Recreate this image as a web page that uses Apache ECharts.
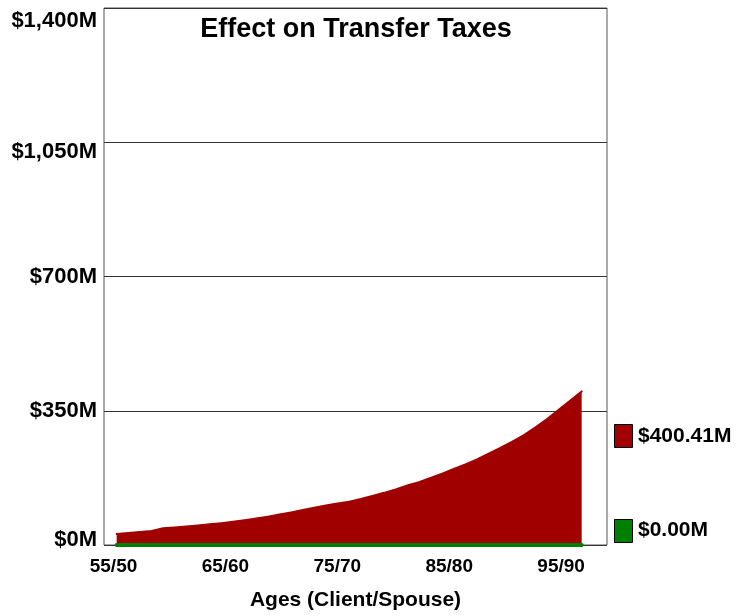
<!DOCTYPE html>
<html>
<head>
<meta charset="utf-8">
<title>Effect on Transfer Taxes</title>
<script src="https://cdn.jsdelivr.net/npm/echarts@6/dist/echarts.min.js"></script>
<style>
  html, body { margin: 0; padding: 0; background: #fff; }
  #chart { width: 750px; height: 616px; }
</style>
</head>
<body>
<div id="chart"></div>
<script>
// Client ages, one point per year
const ages = [55, 56, 57, 58, 59, 60, 61, 62, 63, 64, 65, 66, 67, 68, 69, 70, 71, 72, 73, 74,
              75, 76, 77, 78, 79, 80, 81, 82, 83, 84, 85, 86, 87, 88, 89, 90, 91, 92, 93, 94, 95];

// Transfer taxes ($M) per year
const transferTaxes = [28.7, 31.5, 34.0, 36.8, 43.5, 45.5, 48.0, 51.0, 54.0, 57.0,
                       60.5, 64.5, 69.0, 74.0, 79.5, 85.0, 91.0, 97.0, 103.0, 108.0,
                       113.0, 120.0, 128.0, 136.0, 145.0, 155.0, 164.0, 175.0, 186.0, 198.0,
                       210.0, 223.0, 238.0, 253.0, 269.0, 286.0, 306.0, 328.0, 352.0, 376.0,
                       400.41];

// Alternative scenario ($M) per year
const alternativeTaxes = ages.map(() => 0);

// Axis ticks
const yTicks = [0, 350, 700, 1050, 1400];
const yTickLabels = ['$0M', '$350M', '$700M', '$1,050M', '$1,400M'];
const xTickAges = [55, 65, 75, 85, 95];
const xTickLabels = ['55/50', '65/60', '75/70', '85/80', '95/90'];

const RED = '#a00000';
const GREEN = '#008000';
const FONT = 'Liberation Sans, Arial, Helvetica, sans-serif';

const chart = echarts.init(document.getElementById('chart'), null, { renderer: 'canvas' });

const last = arr => arr[arr.length - 1];
const money = v => '$' + v.toFixed(2) + 'M';

// vertical nudges for some value labels on the left axis
const yShift = { 1400: 'dn12', 1050: 'dn10', 0: 'up5' };
const yLabelFont = { fontFamily: FONT, fontWeight: 'bold', fontSize: 22, color: '#000' };

chart.setOption({
  animation: false,
  backgroundColor: '#fff',
  title: {
    text: 'Effect on Transfer Taxes',
    left: 351,
    textAlign: 'center',
    top: 11,
    textStyle: { fontFamily: FONT, fontWeight: 'bold', fontSize: 27, color: '#000' }
  },
  grid: {
    left: 104, top: 8, width: 503, height: 537,
    show: true, borderColor: '#555', borderWidth: 1, backgroundColor: '#fff'
  },
  xAxis: [
    {
      type: 'value',
      min: 53.91, max: 97.18,
      axisLine: { show: false },
      axisTick: { show: false },
      axisLabel: { show: false },
      splitLine: { show: false }
    },
    {
      type: 'value',
      position: 'bottom',
      min: 54.15, max: 99.1,
      axisLine: { show: false },
      axisTick: { show: false },
      splitLine: { show: false },
      axisLabel: {
        customValues: xTickAges,
        margin: 12,
        fontFamily: FONT, fontWeight: 'bold', fontSize: 19, color: '#000',
        formatter: v => xTickLabels[xTickAges.indexOf(Math.round(v))] || ''
      },
      name: 'Ages (Client/Spouse)',
      nameLocation: 'middle',
      nameGap: 45,
      nameTextStyle: { fontFamily: FONT, fontWeight: 'bold', fontSize: 21, color: '#000' }
    }
  ],
  yAxis: {
    type: 'value',
    min: 0, max: 1400, interval: 350,
    axisLine: { show: false },
    axisTick: { show: false },
    splitLine: { show: true, lineStyle: { color: '#333', width: 1 } },
    axisLabel: {
      margin: 7,
      formatter: v => {
        const txt = yTickLabels[yTicks.indexOf(v)] || '';
        const s = yShift[v];
        return '{' + (s || 'n') + '|' + txt + '}';
      },
      rich: {
        n:    Object.assign({}, yLabelFont),
        dn12: Object.assign({ padding: [26, 0, 0, 0] }, yLabelFont),
        dn10: Object.assign({ padding: [20, 0, 0, 0] }, yLabelFont),
        up5:  Object.assign({ padding: [0, 0, 10, 0] }, yLabelFont)
      }
    }
  },
  series: [
    {
      name: 'Transfer Taxes',
      type: 'line',
      xAxisIndex: 0,
      data: ages.map((a, i) => [a, transferTaxes[i]]),
      showSymbol: false,
      lineStyle: { color: RED, width: 2, cap: 'round', join: 'round' },
      areaStyle: { color: RED, opacity: 1, origin: 'start' },
      z: 2
    },
    {
      name: 'Alternative',
      type: 'line',
      xAxisIndex: 0,
      data: ages.map((a, i) => [a, alternativeTaxes[i]]),
      showSymbol: false,
      lineStyle: { color: GREEN, width: 4, cap: 'round' },
      z: 3
    }
  ],
  graphic: [
    { type: 'rect', shape: { x: 614.5, y: 424.5, width: 18, height: 23 },
      style: { fill: RED, stroke: '#000', lineWidth: 1 } },
    { type: 'text', x: 638, y: 436,
      style: { text: money(last(transferTaxes)), fontFamily: FONT, fontWeight: 'bold', fontSize: 21,
               fill: '#000', verticalAlign: 'middle', align: 'left' } },
    { type: 'rect', shape: { x: 614.5, y: 519.5, width: 18, height: 23 },
      style: { fill: GREEN, stroke: '#000', lineWidth: 1 } },
    { type: 'text', x: 638, y: 530,
      style: { text: money(last(alternativeTaxes)), fontFamily: FONT, fontWeight: 'bold', fontSize: 21,
               fill: '#000', verticalAlign: 'middle', align: 'left' } }
  ]
});
</script>
</body>
</html>
